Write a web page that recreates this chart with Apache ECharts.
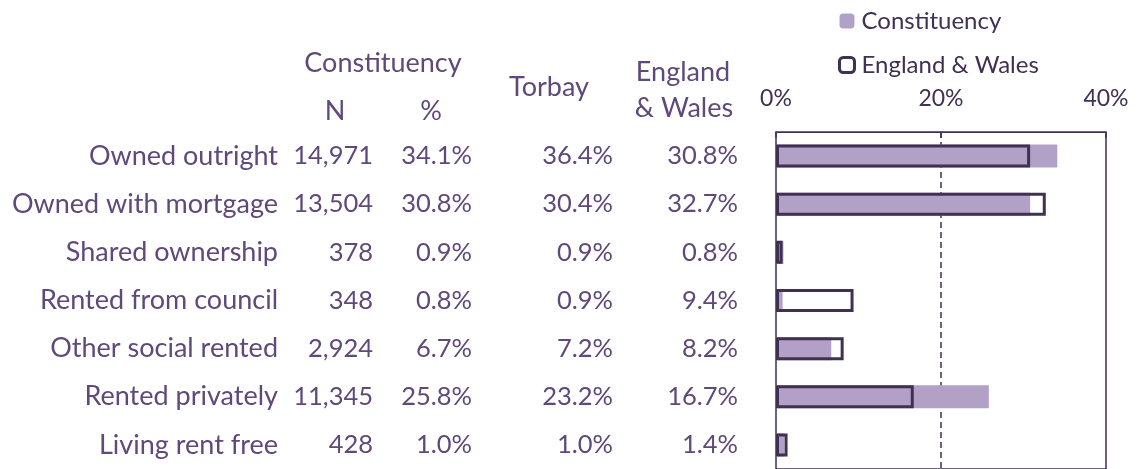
<!DOCTYPE html>
<html>
<head>
<meta charset="utf-8">
<script src="https://cdn.jsdelivr.net/npm/echarts@6/dist/echarts.min.js"></script>
<style>
  html, body { margin: 0; padding: 0; background: #fff; }
  #chart { width: 1146px; height: 469px; }
</style>
</head>
<body>
<div id="chart"></div>
<script>
// tenure categories and table columns
const categories = ['Owned outright', 'Owned with mortgage', 'Shared ownership', 'Rented from council', 'Other social rented', 'Rented privately', 'Living rent free'];
const constituencyN = ['14,971', '13,504', '378', '348', '2,924', '11,345', '428'];
const constituencyPct = [34.1, 30.8, 0.9, 0.8, 6.7, 25.8, 1.0];
const torbayPct = [36.4, 30.4, 0.9, 0.9, 7.2, 23.2, 1.0];
const englandWalesPct = [30.8, 32.7, 0.8, 9.4, 8.2, 16.7, 1.4];
const xTicks = [0, 20, 40];

const TEXT = '#5f497a';
const DARK = '#403152';
const FILL = '#b2a1c7';
const FONT = 'Lato';

const pct = v => v.toFixed(1) + '%';

const gridLeft = 776;

// a label-only column, right edge at x
function column(data, rightEdge, fs) {
  return {
    type: 'category',
    data: data,
    inverse: true,
    position: 'left',
    offset: gridLeft - 6 - rightEdge,
    axisLine: { show: false },
    axisTick: { show: false },
    splitLine: { show: false },
    axisLabel: { margin: 6, color: TEXT, fontSize: fs, fontFamily: FONT, padding: [6, 0, 0, 0] }
  };
}

const header = (text, x, y) => ({
  type: 'text', x: x, y: y,
  style: { text: text, fill: TEXT, font: '27px ' + FONT, align: 'center', verticalAlign: 'middle' }
});

const chart = echarts.init(document.getElementById('chart'));

chart.setOption({
  animation: false,
  textStyle: { fontFamily: FONT },
  grid: {
    left: gridLeft, right: 40, top: 132, bottom: 0,
    show: true, borderColor: DARK, borderWidth: 1.5
  },
  legend: {
    orient: 'vertical',
    left: 833, top: 4,
    itemWidth: 15, itemHeight: 15,
    itemGap: 20,
    textStyle: { color: DARK, fontSize: 24, fontFamily: FONT, padding: [0, 0, 0, 2] },
    data: [
      { name: 'Constituency' },
      { name: 'England & Wales', itemStyle: { color: 'rgba(0,0,0,0)', borderColor: DARK, borderWidth: 3 } }
    ]
  },
  xAxis: {
    type: 'value', position: 'top',
    min: xTicks[0], max: xTicks[xTicks.length - 1], interval: xTicks[1] - xTicks[0],
    axisLine: { show: true, lineStyle: { color: DARK, width: 1 } },
    axisTick: { show: true, inside: true, length: 6, lineStyle: { color: DARK, width: 1.5 } },
    axisLabel: { formatter: '{value}%', color: DARK, fontSize: 23, fontFamily: FONT, margin: 22 },
    splitLine: { show: true, showMinLine: false, showMaxLine: false, lineStyle: { color: DARK, width: 1.5, type: [6, 4] } }
  },
  yAxis: [
    column(categories, 278, 27),
    column(constituencyN, 373, 25.5),
    column(constituencyPct.map(pct), 472, 25.5),
    column(torbayPct.map(pct), 613, 25.5),
    column(englandWalesPct.map(pct), 738, 25.5)
  ],
  series: [
    {
      name: 'Constituency', type: 'bar', yAxisIndex: 0,
      data: constituencyPct, barWidth: 23, barGap: '-100%',
      itemStyle: { color: FILL }
    },
    {
      name: 'England & Wales', type: 'bar', yAxisIndex: 0,
      data: englandWalesPct, barWidth: 23, barGap: '-100%',
      itemStyle: { color: 'rgba(0,0,0,0)', borderColor: DARK, borderWidth: 3 }
    }
  ],
  graphic: [
    header('Constituency', 383, 63),
    header('N', 335, 111),
    header('%', 431, 111),
    header('Torbay', 549, 87),
    header('England', 683, 72),
    header('& Wales', 684, 108)
  ]
});
</script>
</body>
</html>
